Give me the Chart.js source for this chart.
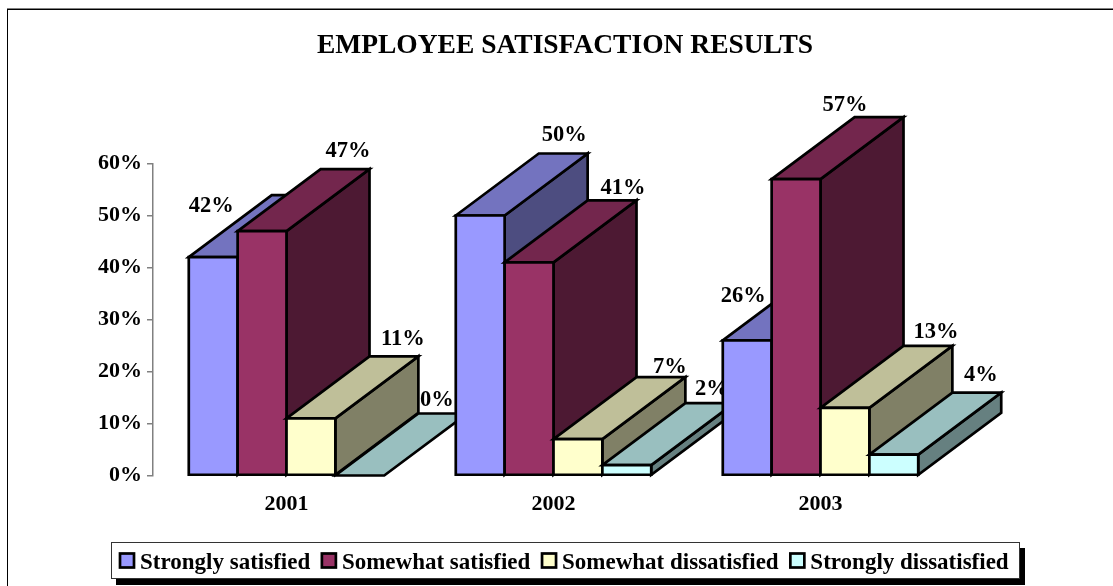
<!DOCTYPE html>
<html>
<head>
<meta charset="utf-8">
<style>
html,body{margin:0;padding:0;background:#fff;overflow:hidden}
#wrap{position:relative;width:1113px;height:586px}
</style>
<script src="https://cdn.jsdelivr.net/npm/chart.js@4/dist/chart.umd.min.js"></script>
</head>
<body>
<div id="wrap"><canvas id="c" width="1113" height="586"></canvas></div>
<script>
const categories = ['2001', '2002', '2003'];
const stronglySatisfied = [42, 50, 26];
const somewhatSatisfied = [47, 41, 57];
const somewhatDissatisfied = [11, 7, 13];
const stronglyDissatisfied = [0, 2, 4];
const seriesNames = ['Strongly satisfied', 'Somewhat satisfied', 'Somewhat dissatisfied', 'Strongly dissatisfied'];
const titleText = 'EMPLOYEE SATISFACTION RESULTS';

const frontColors = ['#9999FF', '#993366', '#FFFFCC', '#CCFFFF'];
const topColors = ['#7373BF', '#73264D', '#BFBF99', '#99BFBF'];
const sideColors = ['#4D4D80', '#4D1933', '#808066', '#668080'];
const SERIF = '"Liberation Serif","Times New Roman",serif';
const DEPTH_X = 83, DEPTH_Y = 62;

// hand-placed data label offsets from the bar's front top centre [series][category]
const labelOffsets = [
  [[-2, -50.5], [84, -80.5], [-4, -44.5]],
  [[86, -79.5], [94, -74.5], [49, -73.5]],
  [[92, -79.5], [92, -71.5], [91, -75.5]],
  [[77, -75.5], [85, -75.5], [87, -79.5]]
];

function poly(ctx, pts, fill) {
  ctx.beginPath();
  pts.forEach((p, i) => i ? ctx.lineTo(p[0], p[1]) : ctx.moveTo(p[0], p[1]));
  ctx.closePath();
  ctx.fillStyle = fill;
  ctx.fill();
  ctx.stroke();
}

const bars3d = {
  id: 'bars3d',
  beforeDatasetsDraw(chart) {
    const ctx = chart.ctx;
    ctx.save();
    ctx.lineWidth = 2.7;
    ctx.strokeStyle = '#000';
    ctx.lineJoin = 'miter';
    const n = chart.data.datasets.length;
    chart.data.labels.forEach((_, c) => {
      for (let s = 0; s < n; s++) {
        const el = chart.getDatasetMeta(s).data[c];
        const l = el.x - el.width / 2, r = el.x + el.width / 2, t = el.y, b = el.base;
        if (t < b) {
          poly(ctx, [[r, t], [r + DEPTH_X, t - DEPTH_Y], [r + DEPTH_X, b - DEPTH_Y], [r, b]], sideColors[s]);
        }
        poly(ctx, [[l, t], [l + DEPTH_X, t - DEPTH_Y], [r + DEPTH_X, t - DEPTH_Y], [r, t]], topColors[s]);
        if (t < b) {
          poly(ctx, [[l, t], [r, t], [r, b], [l, b]], frontColors[s]);
        }
      }
      ctx.fillStyle = '#000';
      ctx.font = 'bold 22.5px ' + SERIF;
      ctx.textAlign = 'center';
      ctx.textBaseline = 'middle';
      for (let s = 0; s < n; s++) {
        const el = chart.getDatasetMeta(s).data[c];
        const o = labelOffsets[s][c];
        ctx.fillText(chart.data.datasets[s].data[c] + '%', el.x + o[0], el.y + o[1]);
      }
    });
    ctx.restore();
    return false;
  }
};

const decor = {
  id: 'decor',
  beforeDraw(chart) {
    const ctx = chart.ctx;
    ctx.save();
    ctx.fillStyle = '#fff';
    ctx.fillRect(0, 0, 1113, 586);
    ctx.fillStyle = '#808080';
    ctx.fillRect(7, 8, 1106, 1);
    ctx.fillStyle = '#000';
    ctx.fillRect(7, 9, 1106, 1);
    ctx.fillRect(7, 9, 1, 577);
    ctx.restore();
  },
  afterDraw(chart) {
    const ctx = chart.ctx;
    ctx.save();
    ctx.fillStyle = '#000';
    ctx.textBaseline = 'alphabetic';
    ctx.textAlign = 'center';
    ctx.font = 'bold 27.5px ' + SERIF;
    ctx.fillText(titleText, 565, 53);

    // legend box
    ctx.fillStyle = '#000';
    ctx.fillRect(116, 548, 909, 37);
    ctx.fillStyle = '#fff';
    ctx.fillRect(111.5, 542.5, 908, 36);
    ctx.strokeStyle = '#333';
    ctx.lineWidth = 1;
    ctx.strokeRect(111.5, 542.5, 908, 36);
    ctx.textAlign = 'left';
    ctx.font = 'bold 23px ' + SERIF;
    let x = 120;
    chart.data.datasets.forEach((d, i) => {
      ctx.fillStyle = frontColors[i];
      ctx.strokeStyle = '#000';
      ctx.lineWidth = 2.7;
      ctx.fillRect(x, 553.5, 14, 14);
      ctx.strokeRect(x, 553.5, 14, 14);
      ctx.fillStyle = '#000';
      ctx.fillText(d.label, x + 20, 569);
      x += 20 + ctx.measureText(d.label).width + 11.7;
    });
    ctx.restore();
  }
};

new Chart(document.getElementById('c'), {
  type: 'bar',
  data: {
    labels: categories,
    datasets: [stronglySatisfied, somewhatSatisfied, somewhatDissatisfied, stronglyDissatisfied].map((data, i) => ({
      label: seriesNames[i],
      data,
      backgroundColor: frontColors[i],
      borderColor: '#000',
      categoryPercentage: 0.732,
      barPercentage: 1
    }))
  },
  options: {
    responsive: false,
    animation: false,
    layout: { padding: { left: 0, right: 159, top: 163.5, bottom: 0 } },
    plugins: { legend: { display: false }, title: { display: false }, tooltip: { enabled: false } },
    scales: {
      x: {
        afterFit(s) { s.height = 110.5; },
        grid: { display: false },
        border: { display: false },
        ticks: { color: '#000', font: { family: SERIF, weight: 'bold', size: 22 }, padding: 8, maxRotation: 0 }
      },
      y: {
        min: 0, max: 60,
        afterFit(s) { s.width = 153; },
        grid: { drawOnChartArea: false, drawTicks: true, tickLength: 6, color: '#808080', lineWidth: 1.5 },
        border: { color: '#808080', width: 1.5 },
        ticks: {
          stepSize: 10, color: '#000', padding: 5,
          font: { family: SERIF, weight: 'bold', size: 22 },
          callback: v => v + '%'
        }
      }
    }
  },
  plugins: [decor, bars3d]
});
</script>
</body>
</html>
